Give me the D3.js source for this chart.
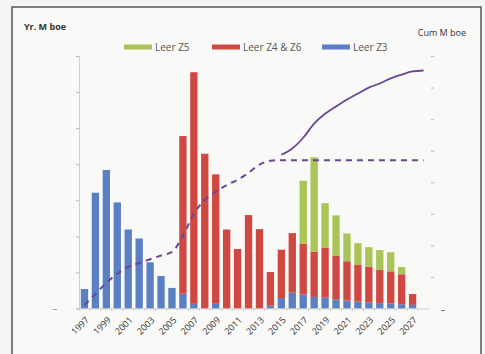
<!DOCTYPE html>
<html>
<head>
<meta charset="utf-8">
<script src="https://cdn.jsdelivr.net/npm/d3@7"></script>
<style>
  html, body { margin: 0; padding: 0; background: #f4f4f2; }
  svg { display: block; }
</style>
</head>
<body>
<svg id="chart" width="485" height="354"></svg>
<script>
// Annual production by zone (Yr. M boe), stacked Z3 / Z4 & Z6 / Z5
const years = d3.range(1997, 2029);
const leerZ3 = [5.4, 32.1, 38.4, 29.4, 21.9, 19.4, 12.8, 9.0, 5.7, 4.1, 1.3, 0, 1.3, 0, 0, 0,
                0, 0.8, 2.9, 4.4, 3.9, 3.2, 3.0, 2.5, 2.2, 1.9, 1.7, 1.5, 1.4, 1.2, 1.0, 0];
const leerZ46 = [0, 0, 0, 0, 0, 0, 0, 0, 0, 43.7, 64.2, 42.9, 35.9, 21.9, 16.5, 25.9,
                 22.0, 9.3, 13.4, 16.5, 14.1, 12.5, 13.9, 12.1, 10.9, 10.3, 9.9, 9.2, 8.9, 8.3, 3.0, 0];
const leerZ5 = [0, 0, 0, 0, 0, 0, 0, 0, 0, 0, 0, 0, 0, 0, 0, 0,
                0, 0, 0, 0, 17.4, 26.2, 12.3, 11.2, 7.7, 5.9, 5.4, 5.5, 5.3, 2.0, 0, 0];

// Cumulative production (Cum M boe)
const cumBase = [11, 46, 81, 110, 132, 144, 156, 168, 179, 230, 300, 344, 370, 391, 408, 430,
                 456, 468, 470, 470, 470, 470, 470, 470, 470, 470, 470, 470, 470, 470, 470, 470];
const cumYears = d3.range(2015, 2029);
const cumTotal = [487, 507, 541, 586, 617, 640, 662, 681, 700, 713, 729, 741, 751, 754];

const labelYears = d3.range(1997, 2028, 2);
const seriesNames = ["Leer Z5", "Leer Z4 & Z6", "Leer Z3"];
const colors = { z3: "#5a7fc2", z46: "#cf4842", z5: "#a9c457" };
const purple = "#6a4793";

const svg = d3.select("#chart");

// frame
svg.append("rect").attr("x", 12).attr("y", 7).attr("width", 469).attr("height", 360)
  .attr("fill", "#f9f9f7").attr("stroke", "#4a4a4a").attr("stroke-width", 1.4);

const x = d3.scaleBand().domain(years).range([79, 429]).paddingInner(0.33).paddingOuter(0.165);
const yL = d3.scaleLinear().domain([0, 70]).range([308.5, 56]);
const yR = d3.scaleLinear().domain([0, 800]).range([308.5, 56]);
const cx = yr => x(yr) + x.bandwidth() / 2;

// left axis
const leftAxis = svg.append("g").attr("transform", "translate(79,0)")
  .call(d3.axisLeft(yL).tickValues(d3.range(0, 71, 10)).tickSize(3).tickFormat(""));
leftAxis.select(".domain").attr("stroke", "#c8c8c8").attr("stroke-width", 0.8);
leftAxis.selectAll(".tick line").attr("stroke", "#b8b8b8");

// right axis (ticks only)
const rightAxis = svg.append("g").attr("transform", "translate(431,0)")
  .call(d3.axisRight(yR).tickValues(d3.range(100, 801, 100)).tickSize(3).tickFormat(""));
rightAxis.select(".domain").remove();
rightAxis.selectAll(".tick line").attr("stroke", "#b8b8b8");

// baseline markers at either side
svg.append("line").attr("x1", 53).attr("x2", 57).attr("y1", yL(0) + 1).attr("y2", yL(0) + 1)
  .attr("stroke", "#9a9a9a");
svg.append("line").attr("x1", 441).attr("x2", 445).attr("y1", yR(0) + 2).attr("y2", yR(0) + 2)
  .attr("stroke", "#777");

// stacked bars
const table = years.map((yr, i) => ({ year: yr, z3: leerZ3[i], z46: leerZ46[i], z5: leerZ5[i] }));
const stack = d3.stack().keys(["z3", "z46", "z5"])(table);
svg.append("g").selectAll("g").data(stack).join("g")
  .attr("fill", d => colors[d.key])
  .selectAll("rect").data(d => d).join("rect")
  .attr("x", d => x(d.data.year))
  .attr("width", x.bandwidth())
  .attr("y", d => yL(d[1]))
  .attr("height", d => Math.max(0, yL(d[0]) - yL(d[1])));

// x axis
const xAxis = svg.append("g").attr("transform", `translate(0,${yL(0)})`)
  .call(d3.axisBottom(x).tickSize(0).tickFormat(d => labelYears.includes(d) ? d : ""));
xAxis.select(".domain").attr("stroke", "#c8c8c8").attr("stroke-width", 0.8);
xAxis.selectAll(".tick text")
  .attr("font-family", "'Open Sans', sans-serif").attr("font-size", 9).attr("fill", "#333")
  .attr("text-anchor", "end").attr("dy", 0).attr("dx", 0)
  .attr("transform", "translate(3,10) rotate(-45)");
// minor tick marks between categories
svg.append("g").selectAll("line").data(years).join("line")
  .attr("x1", d => x(d) - x.step() * x.paddingInner() / 2)
  .attr("x2", d => x(d) - x.step() * x.paddingInner() / 2)
  .attr("y1", yL(0)).attr("y2", yL(0) + 2).attr("stroke", "#c0c0c0");

// cumulative lines
const line = d3.line().curve(d3.curveMonotoneX);
svg.append("path")
  .attr("d", line(years.map((yr, i) => [cx(yr), yR(cumBase[i])])))
  .attr("fill", "none").attr("stroke", purple).attr("stroke-width", 2)
  .attr("stroke-dasharray", "6,5");
svg.append("path")
  .attr("d", line(cumYears.map((yr, i) => [cx(yr), yR(cumTotal[i])])))
  .attr("fill", "none").attr("stroke", purple).attr("stroke-width", 1.8);

// axis titles
svg.append("text").attr("x", 24).attr("y", 30).text("Yr. M boe")
  .attr("font-family", "'Open Sans', sans-serif").attr("font-size", 9).attr("font-weight", "bold")
  .attr("fill", "#333");
svg.append("text").attr("x", 466).attr("y", 36).attr("text-anchor", "end").text("Cum M boe")
  .attr("font-family", "'Open Sans', sans-serif").attr("font-size", 9).attr("fill", "#333");

// legend
const legendKeys = ["z5", "z46", "z3"];
const legendX = [124, 212, 322];
const legend = svg.append("g").selectAll("g").data(seriesNames).join("g")
  .attr("transform", (d, i) => `translate(${legendX[i]},47)`);
legend.append("rect").attr("x", 0).attr("y", -2.5).attr("width", 28).attr("height", 5)
  .attr("fill", (d, i) => colors[legendKeys[i]]);
legend.append("text").attr("x", 31).attr("y", 4).text(d => d)
  .attr("font-family", "'Open Sans', sans-serif").attr("font-size", 10).attr("fill", "#555");
</script>
</body>
</html>
